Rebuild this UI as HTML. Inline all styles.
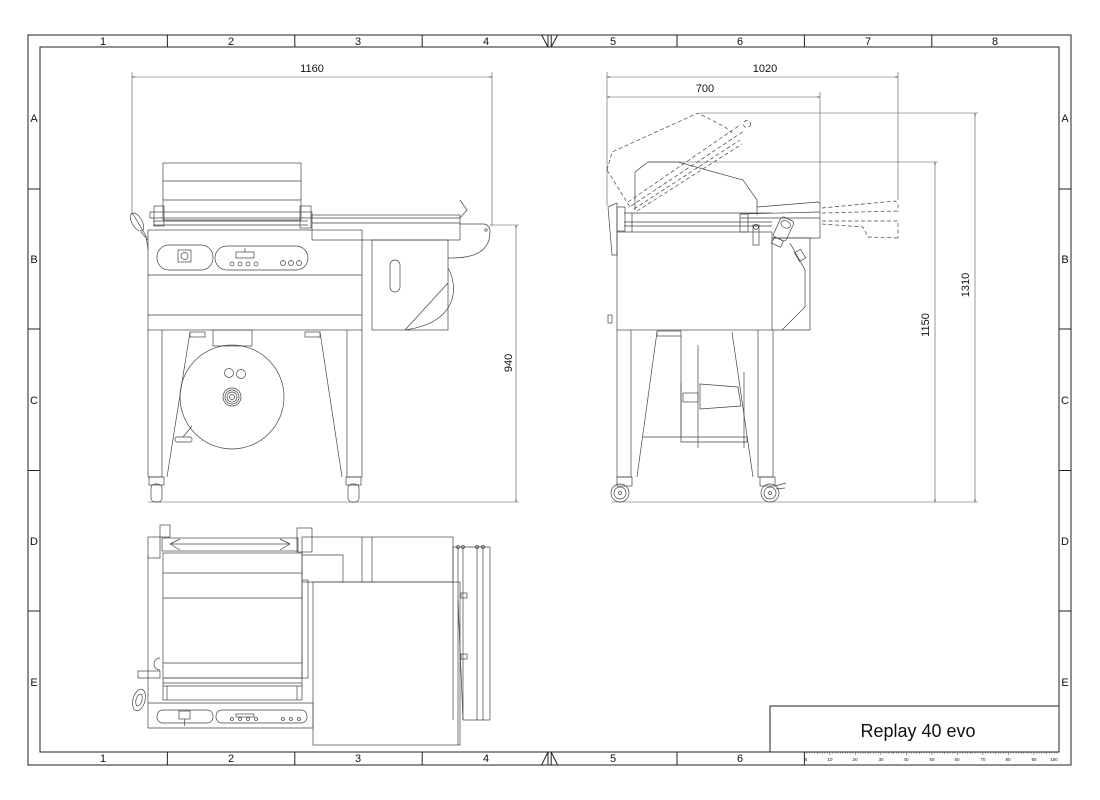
<!DOCTYPE html>
<html><head><meta charset="utf-8"><style>
html,body{margin:0;padding:0;background:#fff;}
svg{display:block;}
text{font-family:"Liberation Sans",Arial,sans-serif;fill:#111;}
</style></head><body>
<svg width="1100" height="800" viewBox="0 0 1100 800" xmlns="http://www.w3.org/2000/svg">
<defs>
<marker id="ar" viewBox="0 0 10 10" refX="10" refY="5" markerWidth="5" markerHeight="4" orient="auto-start-reverse"><path d="M0,2 L10,5 L0,8 z" fill="#333"/></marker>
</defs>
<rect width="1100" height="800" fill="#fff"/>
<!-- FRAME -->
<g fill="none" stroke="#222" stroke-width="1">
<rect x="28" y="35" width="1043" height="730"/>
<rect x="40" y="47" width="1019" height="705"/>
<path d="M167.4,35V47M294.8,35V47M422.2,35V47M677,35V47M804.4,35V47M931.8,35V47"/>
<path d="M167.4,752V765M294.8,752V765M422.2,752V765M677,752V765M804.4,752V765"/>
<path d="M28,189H40M28,329H40M28,470.5H40M28,611H40M1059,189H1071M1059,329H1071M1059,470.5H1071M1059,611H1071"/>
<path d="M541.6,35L548,47M557.6,35L551.2,47M548,35V47M551.2,35V47"/>
<path d="M541.6,765L548,752M557.6,765L551.2,752M548,765V752M551.2,765V752"/>
<rect x="770" y="706" width="289" height="46"/>
</g>
<g font-size="11" text-anchor="middle">
<text x="103" y="45">1</text><text x="231" y="45">2</text><text x="358" y="45">3</text><text x="486" y="45">4</text><text x="613" y="45">5</text><text x="740" y="45">6</text><text x="868" y="45">7</text><text x="995" y="45">8</text>
<text x="103" y="762">1</text><text x="231" y="762">2</text><text x="358" y="762">3</text><text x="486" y="762">4</text><text x="613" y="762">5</text><text x="740" y="762">6</text>
<text x="34" y="122">A</text><text x="34" y="263">B</text><text x="34" y="404">C</text><text x="34" y="545">D</text><text x="34" y="686">E</text>
<text x="1065" y="122">A</text><text x="1065" y="263">B</text><text x="1065" y="404">C</text><text x="1065" y="545">D</text><text x="1065" y="686">E</text>
</g>
<text x="918" y="737" font-size="18" text-anchor="middle">Replay 40 evo</text>
<!-- RULER -->
<g stroke="#333" stroke-width="0.5">
<path d="M806.9,752v1.5M809.5,752v1.5M812,752v1.5M814.6,752v1.5M817.2,752v2M819.7,752v1.5M822.3,752v1.5M824.8,752v1.5M827.4,752v1.5M832.5,752v1.5M835.1,752v1.5M837.6,752v1.5M840.2,752v1.5M842.7,752v2M845.3,752v1.5M847.8,752v1.5M850.4,752v1.5M852.9,752v1.5M858,752v1.5M860.6,752v1.5M863.1,752v1.5M865.7,752v1.5M868.2,752v2M870.8,752v1.5M873.3,752v1.5M875.9,752v1.5M878.4,752v1.5M883.5,752v1.5M886.1,752v1.5M888.6,752v1.5M891.2,752v1.5M893.7,752v2M896.3,752v1.5M898.8,752v1.5M901.4,752v1.5M903.9,752v1.5M909,752v1.5M911.6,752v1.5M914.1,752v1.5M916.7,752v1.5M919.2,752v2M921.8,752v1.5M924.3,752v1.5M926.9,752v1.5M929.4,752v1.5M934.5,752v1.5M937.1,752v1.5M939.6,752v1.5M942.2,752v1.5M944.7,752v2M947.3,752v1.5M949.8,752v1.5M952.4,752v1.5M954.9,752v1.5M960,752v1.5M962.6,752v1.5M965.1,752v1.5M967.7,752v1.5M970.2,752v2M972.8,752v1.5M975.3,752v1.5M977.9,752v1.5M980.4,752v1.5M985.5,752v1.5M988.1,752v1.5M990.6,752v1.5M993.2,752v1.5M995.7,752v2M998.3,752v1.5M1000.8,752v1.5M1003.4,752v1.5M1005.9,752v1.5M1011,752v1.5M1013.6,752v1.5M1016.1,752v1.5M1018.7,752v1.5M1021.2,752v2M1023.8,752v1.5M1026.3,752v1.5M1028.9,752v1.5M1031.4,752v1.5M1036.5,752v1.5M1039.1,752v1.5M1041.6,752v1.5M1044.2,752v1.5M1046.7,752v2M1049.3,752v1.5M1051.8,752v1.5M1054.4,752v1.5M1056.9,752v1.5"/>
<path d="M804.4,752v3M829.9,752v3M855.4,752v3M880.9,752v3M906.4,752v3M931.9,752v3M957.4,752v3M982.9,752v3M1008.4,752v3M1033.9,752v3"/>
</g>
<g font-size="4.5" text-anchor="middle">
<text x="806" y="761">0</text><text x="830" y="761">10</text><text x="855" y="761">20</text><text x="881" y="761">30</text><text x="906" y="761">40</text><text x="932" y="761">50</text><text x="957" y="761">60</text><text x="983" y="761">70</text><text x="1008" y="761">80</text><text x="1034" y="761">90</text><text x="1054" y="761">100</text>
</g>
<!-- DIMENSIONS -->
<g fill="none" stroke="#555" stroke-width="0.6">
<path d="M132,72V215M492,72V226M607,72V206M820,92V204M898,72V200"/>
<path d="M490,225H519M148,502H519M700,113H978M648,162H938M612,502H978"/>
<path d="M132,77H492" marker-start="url(#ar)" marker-end="url(#ar)"/>
<path d="M516,225V502" marker-start="url(#ar)" marker-end="url(#ar)"/>
<path d="M607,77H898" marker-start="url(#ar)" marker-end="url(#ar)"/>
<path d="M607,97H820" marker-start="url(#ar)" marker-end="url(#ar)"/>
<path d="M975,113V502" marker-start="url(#ar)" marker-end="url(#ar)"/>
<path d="M935,162V502" marker-start="url(#ar)" marker-end="url(#ar)"/>
</g>
<g font-size="11" text-anchor="middle">
<text x="312" y="72">1160</text>
<text x="765" y="72">1020</text>
<text x="705" y="92">700</text>
<text transform="translate(512,363) rotate(-90)">940</text>
<text transform="translate(969,285) rotate(-90)">1310</text>
<text transform="translate(929,325) rotate(-90)">1150</text>
</g>
<!-- FRONT VIEW -->
<g fill="none" stroke="#444" stroke-width="0.7">
<rect x="163" y="163" width="138" height="57"/>
<path d="M163,181H301M163,200H301"/>
<rect x="150" y="212" width="162" height="6"/>
<path d="M153,221H308M153,225H308"/>
<rect x="154" y="206" width="10" height="20"/>
<rect x="300" y="206" width="11" height="22"/>
<ellipse cx="137" cy="222" rx="5" ry="10" transform="rotate(-30 137 222)"/>
<path d="M133,214L146,236L148,250M141,232L148,240"/>
<rect x="148" y="230" width="214" height="100"/>
<path d="M148,275H362M148,315H362"/>
<rect x="157" y="245" width="56" height="25" rx="12"/>
<rect x="215" y="246" width="93" height="24" rx="12"/>
<rect x="178" y="250" width="13" height="12"/>
<circle cx="184.5" cy="256" r="3.5"/>
<rect x="236" y="252" width="18" height="6"/>
<path d="M245,248V252"/>
<circle cx="232" cy="264" r="2"/><circle cx="240" cy="264" r="2"/><circle cx="248" cy="264" r="2"/><circle cx="256" cy="264" r="2"/>
<circle cx="283" cy="263" r="2.5"/><circle cx="291" cy="263" r="2.5"/><circle cx="299" cy="263" r="2.5"/>
<rect x="312" y="215" width="148" height="25"/>
<path d="M312,218H460M312,223H460"/>
<path d="M460,200L467,210L460,218"/>
<path d="M460,224H484Q490,225 490,232Q490,258 452,258H448"/>
<circle cx="486" cy="230" r="1.2"/>
<rect x="372" y="240" width="76" height="90"/>
<rect x="390" y="260" width="10" height="32" rx="5"/>
<path d="M405,330L448,283"/>
<path d="M448,268C458,285 460,322 405,330"/>
<!-- legs -->
<path d="M148,330V477H162V330M190,332L167,477"/>
<path d="M347,330V477H362V330M320,332L342,477"/>
<rect x="190" y="332" width="15" height="5"/><rect x="305" y="332" width="15" height="5"/>
<rect x="213" y="330" width="39" height="16"/>
<circle cx="232" cy="397" r="52"/>
<circle cx="229" cy="373" r="4.5"/><circle cx="241" cy="374" r="4.5"/>
<circle cx="232" cy="397" r="9"/><circle cx="232" cy="397" r="7"/><circle cx="232" cy="397" r="5"/><circle cx="232" cy="397" r="2.5"/>
<rect x="175" y="437" width="17" height="5" rx="2"/>
<path d="M183,437L192,426"/>
<rect x="149" y="477" width="15" height="8"/>
<rect x="151" y="484" width="11" height="18" rx="4"/>
<rect x="346" y="477" width="15" height="8"/>
<rect x="348" y="484" width="11" height="18" rx="4"/>
</g>
<!-- SIDE VIEW -->
<g fill="none" stroke="#444" stroke-width="0.7" stroke-dasharray="4,2.5">
<path d="M607,170L612,152L698,113L725,127L732,133"/>
<path d="M607,170L630,207"/>
<path d="M628,202L740,125M631,206L744,131M634,209L740,140M637,211L742,144"/>
<circle cx="747" cy="124" r="3.5"/>
<path d="M822,208L895,201L898,204V212M822,213L897,211M822,221L898,221V238M822,224L863,227L868,237L898,238"/>
</g>
<g fill="none" stroke="#444" stroke-width="0.7">
<path d="M635,210V172L648,162H678L743,180L757,200V207"/>
<path d="M757,207V215M757,207L818,202L820,203V238H772"/>
<path d="M740,214L820,212M740,218L820,218"/>
<path d="M608,207L617,203V255H612L608,207"/>
<rect x="617" y="232" width="155" height="98"/>
<path d="M624,213H772M624,222H772M624,226H772M632,213V232"/>
<rect x="740" y="214" width="8" height="18"/>
<path d="M772,238H810V330H772M790,243L805,270V307L782,330"/>
<g transform="rotate(25 784 228)">
<rect x="777" y="218" width="14" height="22" rx="3"/>
<ellipse cx="784" cy="224" rx="5" ry="3.5"/>
<rect x="779" y="240" width="10" height="7"/>
</g>
<rect x="753" y="225" width="6" height="20"/>
<circle cx="756" cy="227" r="2.5"/>
<g transform="rotate(-30 801 256)"><rect x="797" y="250" width="7" height="10"/></g>
<rect x="608" y="315" width="4" height="8"/>
<rect x="617" y="207" width="8" height="24"/>
<!-- legs -->
<path d="M617,330V477H631V330M657,332L637,477"/>
<path d="M758,330V477H773V330M732,332L753,477"/>
<rect x="657" y="331" width="24" height="5"/>
<path d="M681,336V437H643"/>
<path d="M698,345V448"/>
<path d="M700,384L738,387L741,406L700,409Z"/>
<rect x="683" y="393" width="15" height="9"/>
<path d="M681,383V442H747V437H681"/>
<path d="M744,372V448"/>
<rect x="617" y="477" width="15" height="9"/>
<circle cx="620" cy="493" r="9"/><circle cx="620" cy="493" r="6"/><circle cx="620" cy="493" r="1.5"/>
<rect x="760" y="477" width="15" height="9"/>
<circle cx="770" cy="493" r="9"/><circle cx="770" cy="493" r="6"/><circle cx="770" cy="493" r="1.5"/>
<path d="M775,486L786,483M776,489L785,488"/>
</g>
<!-- TOP VIEW -->
<g fill="none" stroke="#444" stroke-width="0.7">
<path d="M148,555V728H313"/>
<rect x="162" y="538" width="136" height="13"/>
<path d="M170,544H290M170,544L180,539M170,544L180,550M290,544L280,539M290,544L280,550"/>
<rect x="148" y="537" width="12" height="21"/>
<rect x="160" y="525" width="10" height="12"/>
<rect x="297" y="528" width="15" height="24"/>
<rect x="163" y="553" width="139" height="125"/>
<path d="M163,573H302M163,598H302M163,663H302"/>
<rect x="163" y="678" width="139" height="22"/>
<path d="M163,683H302M163,686H302M167,686V700M297,686V700"/>
<path d="M148,703H313V728"/>
<rect x="157" y="710" width="56" height="13" rx="6"/>
<rect x="216" y="710" width="91" height="13" rx="6"/>
<rect x="179" y="711" width="11" height="8"/>
<path d="M184.5,719V726"/>
<rect x="236" y="714" width="18" height="3"/>
<circle cx="232" cy="719" r="1.5"/><circle cx="240" cy="719" r="1.5"/><circle cx="248" cy="719" r="1.5"/><circle cx="256" cy="719" r="1.5"/>
<circle cx="283" cy="719" r="1.5"/><circle cx="291" cy="719" r="1.5"/><circle cx="299" cy="719" r="1.5"/>
<rect x="302" y="537" width="151" height="45"/>
<path d="M362,537V582M372,537V582M302,555H343V582"/>
<rect x="302" y="580" width="6" height="98"/>
<rect x="313" y="582" width="147" height="163"/>
<path d="M453,547H490M453,547V720M458,547V745M463,547V720M477,547V720M483,547V720M490,547V720M463,720H490"/>
<path d="M458,600L463,720"/>
<rect x="461" y="593" width="6" height="5"/><rect x="461" y="654" width="6" height="5"/>
<circle cx="458" cy="547" r="1.5"/><circle cx="463" cy="547" r="1.5"/><circle cx="477" cy="547" r="1.5"/><circle cx="483" cy="547" r="1.5"/>
<rect x="138" y="671" width="22" height="7"/>
<ellipse cx="139" cy="700" rx="6" ry="11" transform="rotate(15 139 700)"/>
<ellipse cx="139" cy="700" rx="3" ry="6" transform="rotate(15 139 700)"/>
<path d="M160,658A6,6 0 0 0 160,670"/>
</g>
</svg>
</body></html>
